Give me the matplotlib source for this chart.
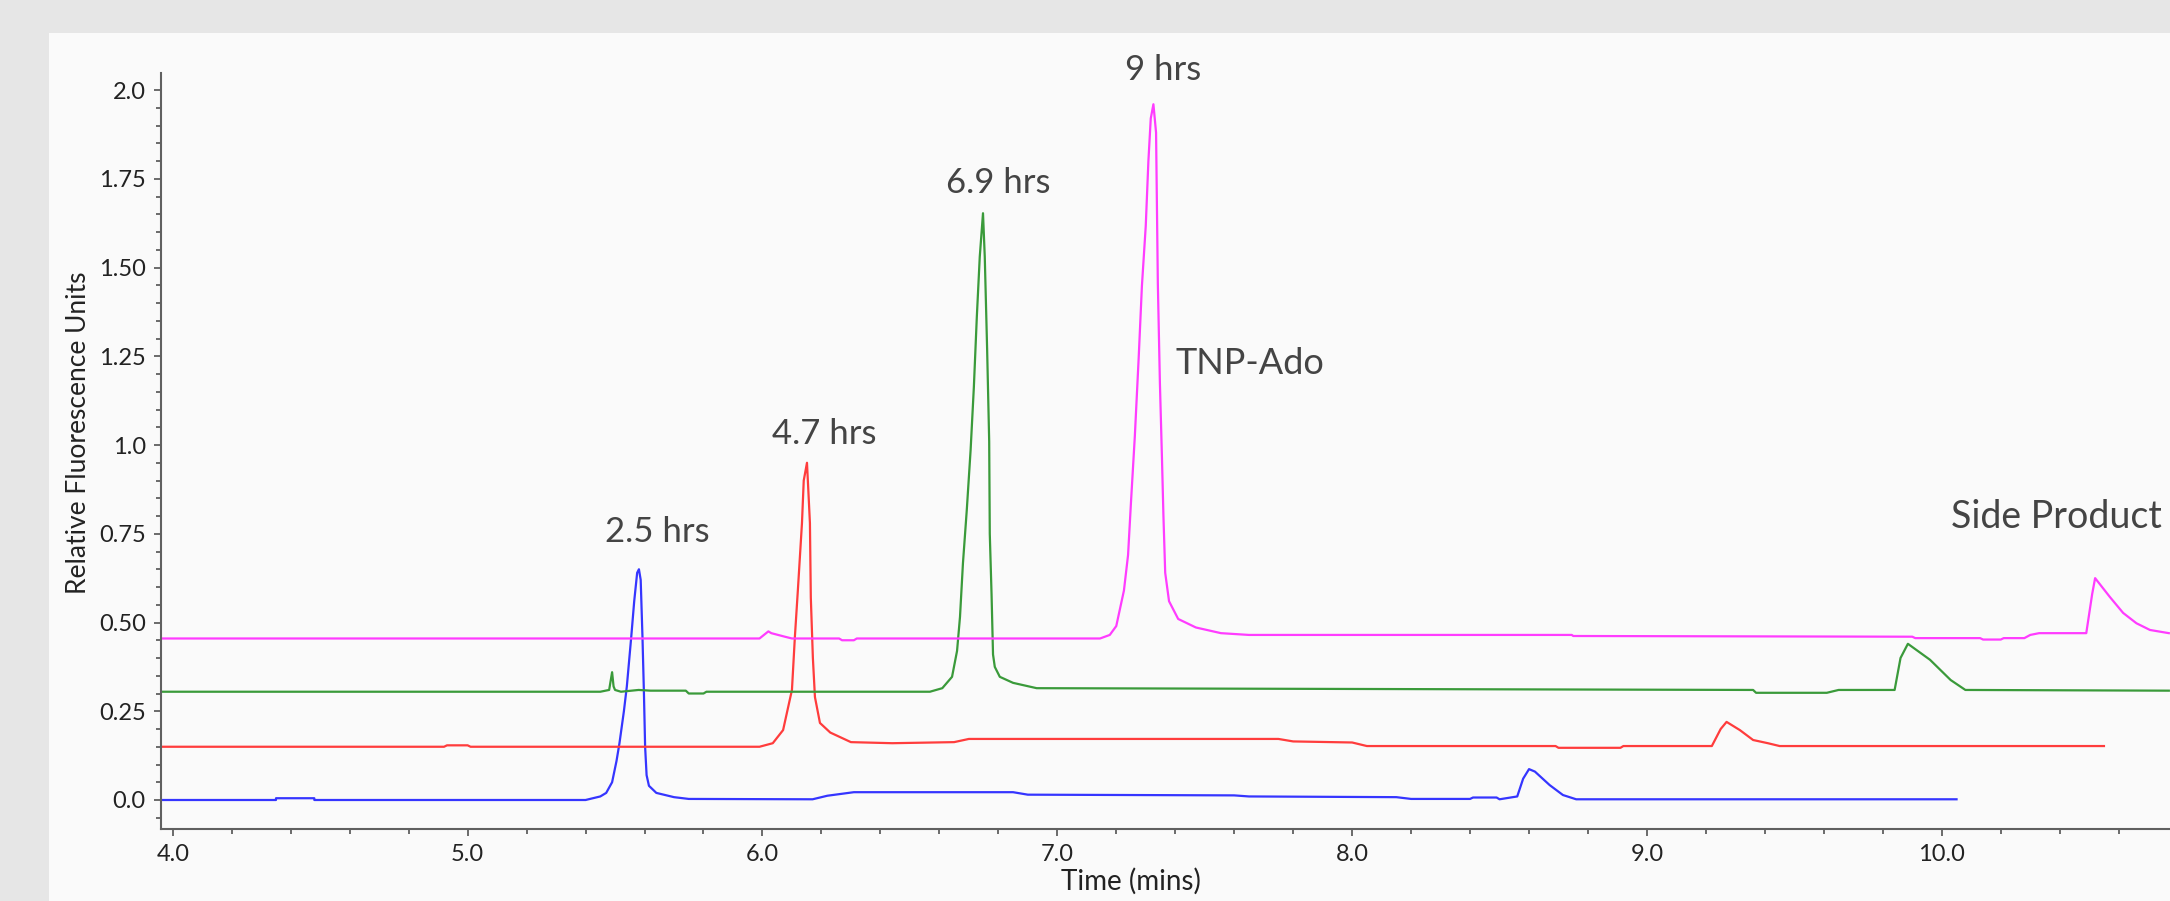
import matplotlib
matplotlib.use('Agg')
import matplotlib.pyplot as plt
from matplotlib.patches import Rectangle
from matplotlib.ticker import MultipleLocator

plt.rcParams['font.family'] = ['Lato', 'DejaVu Sans']

# time (mins) / relative fluorescence
t_25 = [3.96, 4.35, 4.35, 4.48, 4.48, 5.40, 5.45, 5.47, 5.49, 5.505, 5.515, 5.53, 5.54,
        5.555, 5.565, 5.575, 5.581, 5.587, 5.593, 5.598, 5.602, 5.607, 5.615, 5.64, 5.70,
        5.75, 6.17, 6.22, 6.31, 6.85, 6.90, 7.60, 7.65, 8.15, 8.20, 8.40, 8.41, 8.49, 8.50,
        8.56, 8.58, 8.60, 8.62, 8.67, 8.715, 8.76, 10.05]
v_25 = [0.0, 0.0, 0.005, 0.005, 0.0, 0.0, 0.01, 0.02, 0.05, 0.11, 0.16, 0.25, 0.32,
        0.46, 0.56, 0.64, 0.65, 0.62, 0.46, 0.30, 0.15, 0.07, 0.04, 0.02, 0.008,
        0.003, 0.002, 0.012, 0.022, 0.022, 0.015, 0.013, 0.01, 0.008, 0.003, 0.003, 0.007, 0.007, 0.002,
        0.01, 0.06, 0.087, 0.08, 0.042, 0.014, 0.002, 0.002]

t_47 = [3.96, 4.92, 4.93, 5.0, 5.01, 5.99, 6.035, 6.07, 6.10, 6.11, 6.12, 6.134, 6.14,
        6.151, 6.161, 6.164, 6.171, 6.178, 6.195, 6.23, 6.30, 6.44, 6.65, 6.70, 7.75,
        7.80, 8.0, 8.05, 8.69, 8.70, 8.91, 8.92, 9.22, 9.25, 9.27, 9.315, 9.36, 9.41,
        9.45, 10.55]
v_47 = [0.15, 0.15, 0.154, 0.154, 0.15, 0.15, 0.16, 0.197, 0.31, 0.46, 0.59, 0.78, 0.90,
        0.95, 0.78, 0.57, 0.40, 0.29, 0.217, 0.19, 0.163, 0.16, 0.163, 0.172, 0.172,
        0.165, 0.162, 0.152, 0.152, 0.147, 0.147, 0.152, 0.152, 0.20, 0.22, 0.197, 0.169, 0.16,
        0.152, 0.152]

t_69 = [3.96, 5.45, 5.48, 5.49, 5.495, 5.50, 5.52, 5.58, 5.62, 5.74, 5.75, 5.80, 5.81,
        6.568, 6.61, 6.643, 6.66, 6.67, 6.68, 6.693, 6.706, 6.717, 6.727, 6.737, 6.748,
        6.754, 6.762, 6.769, 6.771, 6.777, 6.782, 6.788, 6.805, 6.85, 6.93, 9.36, 9.37,
        9.61, 9.65, 9.84, 9.86, 9.885, 9.96, 10.03, 10.08, 10.77]
v_69 = [0.305, 0.305, 0.31, 0.36, 0.32, 0.31, 0.305, 0.31, 0.308, 0.308, 0.30, 0.30, 0.305,
        0.305, 0.315, 0.347, 0.42, 0.516, 0.667, 0.817, 0.986, 1.163, 1.36, 1.53, 1.653,
        1.53, 1.27, 1.01, 0.75, 0.58, 0.41, 0.375, 0.347, 0.33, 0.315, 0.31, 0.302,
        0.302, 0.31, 0.31, 0.40, 0.44, 0.395, 0.338, 0.31, 0.308]

t_9 = [3.96, 5.99, 6.02, 6.03, 6.076, 6.10, 6.26, 6.27, 6.31, 6.32, 7.145, 7.178, 7.20,
       7.226, 7.24, 7.25, 7.263, 7.276, 7.287, 7.30, 7.309, 7.317, 7.326, 7.335, 7.341,
       7.348, 7.355, 7.36, 7.366, 7.379, 7.41, 7.47, 7.555, 7.65, 8.745, 8.75, 9.9, 9.91,
       10.13, 10.14, 10.2, 10.21, 10.28, 10.30, 10.33, 10.49, 10.51, 10.52, 10.57, 10.615,
       10.66, 10.706, 10.77]
v_9 = [0.455, 0.455, 0.475, 0.47, 0.46, 0.455, 0.455, 0.45, 0.45, 0.455, 0.455, 0.465, 0.49,
       0.59, 0.69, 0.84, 1.025, 1.245, 1.448, 1.617, 1.80, 1.92, 1.96, 1.88, 1.456,
       1.175, 0.963, 0.80, 0.64, 0.56, 0.51, 0.486, 0.47, 0.465, 0.465, 0.462, 0.46, 0.456,
       0.456, 0.452, 0.452, 0.456, 0.456, 0.465, 0.47, 0.47, 0.58, 0.625, 0.572, 0.527,
       0.498, 0.479, 0.47]

y_ticks = [0.0, 0.25, 0.5, 0.75, 1.0, 1.25, 1.5, 1.75, 2.0]
y_labels = ['0.0', '0.25', '0.50', '0.75', '1.0', '1.25', '1.50', '1.75', '2.0']
x_ticks = [4, 5, 6, 7, 8, 9, 10]
x_labels = ['4.0', '5.0', '6.0', '7.0', '8.0', '9.0', '10.0']

fig = plt.figure(figsize=(21.7, 9.01), dpi=100)
fig.patch.set_facecolor('#e6e6e6')
# white panel behind the chart
fig.patches.append(Rectangle((49 / 2170, 0), 1, (901 - 33) / 901, transform=fig.transFigure,
                             facecolor='#fafafa', edgecolor='none', zorder=-10))

ax = fig.add_axes([161 / 2170, 72 / 901, 1 - 161 / 2170, (829 - 73) / 901])
ax.set_facecolor('none')

ax.plot(t_25, v_25, color='#3535ff', lw=1.6)
ax.plot(t_47, v_47, color='#ff3c3c', lw=1.6)
ax.plot(t_69, v_69, color='#3a9a3a', lw=1.6)
ax.plot(t_9, v_9, color='#ff3cff', lw=1.6)

ax.set_xlim(3.96, 10.774)
ax.set_ylim(-0.0817, 2.048)

for s in ['top', 'right']:
    ax.spines[s].set_visible(False)
for s in ['left', 'bottom']:
    ax.spines[s].set_color('#606060')
    ax.spines[s].set_linewidth(1.5)

ax.set_yticks(y_ticks)
ax.set_yticklabels(y_labels)
ax.set_xticks(x_ticks)
ax.set_xticklabels(x_labels)
ax.xaxis.set_minor_locator(MultipleLocator(0.2))
ax.yaxis.set_minor_locator(MultipleLocator(0.05))
ax.tick_params(which='major', length=5, width=1.3, color='#606060', labelsize=17, labelcolor='#222222', pad=6)
ax.tick_params(which='minor', length=3.5, width=1.3, color='#606060')

ax.set_xlabel('Time (mins)', fontsize=20, color='#222222', labelpad=2)
ax.set_ylabel('Relative Fluorescence Units', fontsize=19, color='#222222', labelpad=6)
# original chart is cropped on the right, so the labels sit off-centre
ax.xaxis.label.set_x(0.483)
ax.yaxis.label.set_y(0.524)

txt = dict(fontsize=25, color='#444444', ha='center', va='center')
ax.text(5.642, 0.755, '2.5 hrs', **txt)
ax.text(6.21, 1.03, '4.7 hrs', **txt)
ax.text(6.80, 1.738, '6.9 hrs', **txt)
ax.text(7.358, 2.056, '9 hrs', clip_on=False, **txt)
ax.text(7.40, 1.231, 'TNP-Ado', fontsize=26, color='#444444', ha='left', va='center')
ax.text(10.03, 0.797, 'Side Product', fontsize=27, color='#444444', ha='left', va='center')

fig.savefig('out.png', dpi=100, facecolor=fig.get_facecolor())
